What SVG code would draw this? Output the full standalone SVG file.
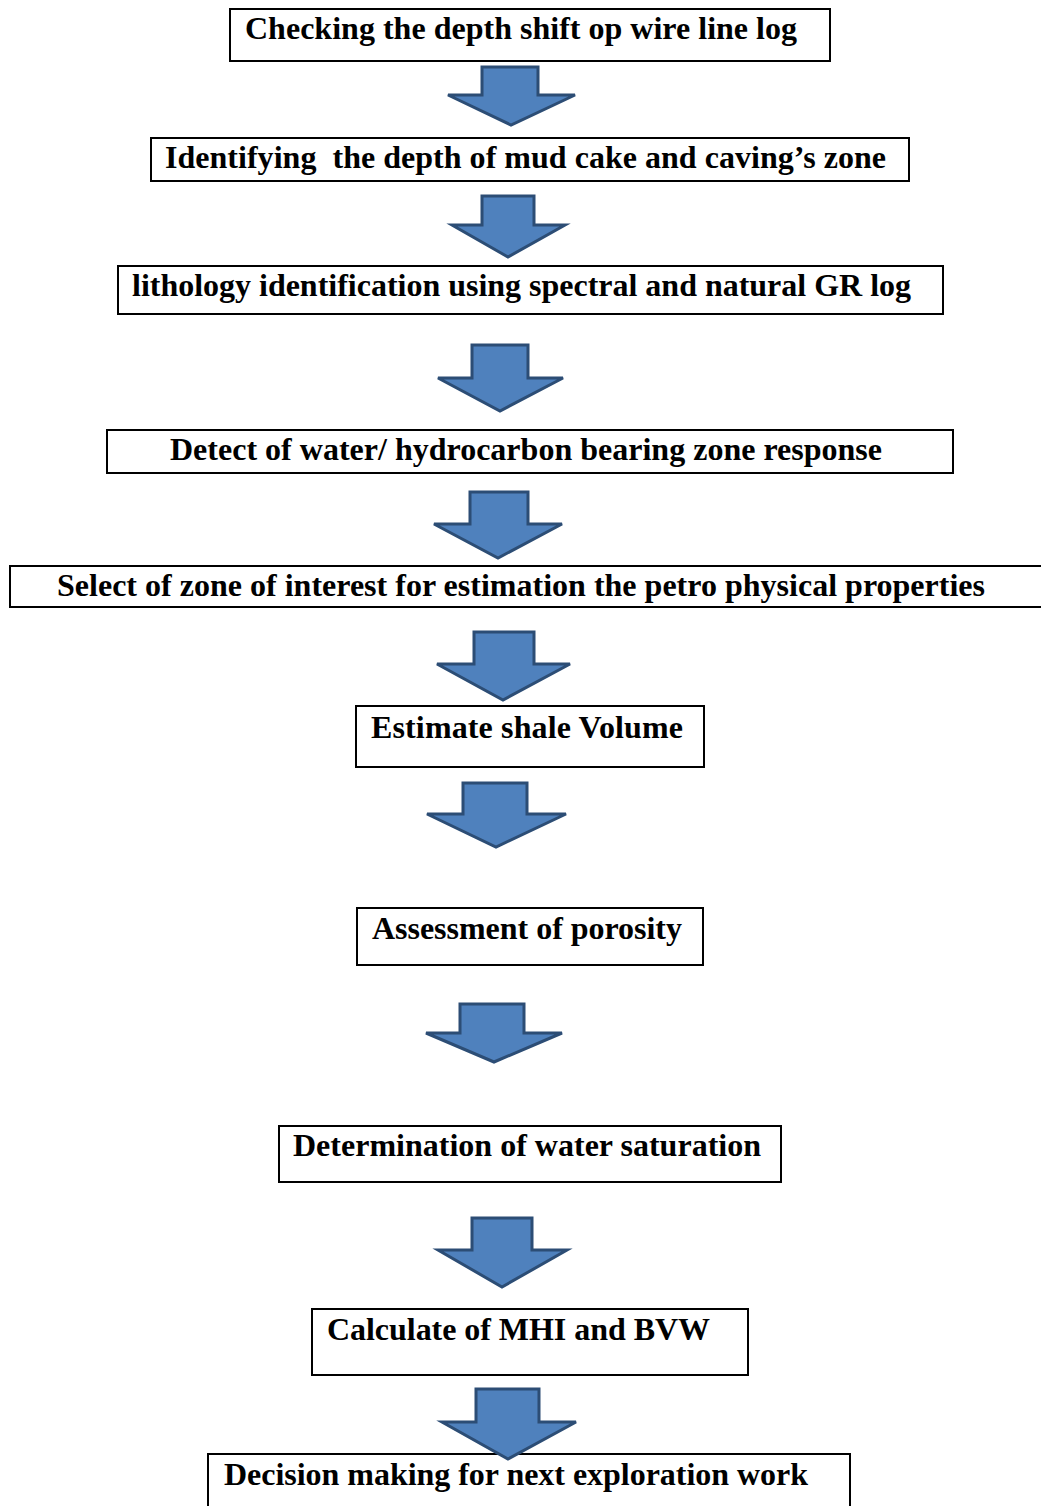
<svg xmlns="http://www.w3.org/2000/svg" width="1041" height="1506" viewBox="0 0 1041 1506">
<style>
.box{fill:#fff;stroke:#000;stroke-width:2}
.t{font-family:"Liberation Serif","Times New Roman",serif;font-weight:bold;font-size:32px;fill:#000;white-space:pre}
.arr{fill:#4F81BD;stroke:#2C4D75;stroke-width:3;stroke-linejoin:miter}
</style>
<rect width="1041" height="1506" fill="#fff"/>
<g id="connectors">
<polygon class="arr" points="482,67 538,67 538,95 575,95 511,125 448,95 482,95"/>
<polygon class="arr" points="482,196 534,196 534,225 565,225 508,257 452,225 482,225"/>
<polygon class="arr" points="472,345 528,345 528,378 563,378 500,411 438,378 472,378"/>
<polygon class="arr" points="470,492 528,492 528,524 562,524 498,558 434,524 470,524"/>
<polygon class="arr" points="474,632 534,632 534,664 570,664 503,700 437,664 474,664"/>
<polygon class="arr" points="463,783 527,783 527,814 566,814 496,847 427,814 463,814"/>
<polygon class="arr" points="460,1004 524,1004 524,1033 562,1033 494,1062 426,1033 460,1033"/>
<polygon class="arr" points="472,1218 532,1218 532,1250 567,1250 502,1287 438,1250 472,1250"/>
</g>
<g id="n1"><rect class="box" x="230" y="9" width="600" height="52"/><text class="t" x="245" y="39" textLength="552" lengthAdjust="spacing">Checking the depth shift op wire line log</text></g>
<g id="n2"><rect class="box" x="151" y="138" width="758" height="43"/><text class="t" x="165" y="168" textLength="721" lengthAdjust="spacing" xml:space="preserve">Identifying  the depth of mud cake and caving’s zone</text></g>
<g id="n3"><rect class="box" x="118" y="266" width="825" height="48"/><text class="t" x="132" y="296" textLength="779" lengthAdjust="spacing">lithology identification using spectral and natural GR log</text></g>
<g id="n4"><rect class="box" x="107" y="430" width="846" height="43"/><text class="t" x="170" y="460" textLength="712" lengthAdjust="spacing">Detect of water/ hydrocarbon bearing zone response</text></g>
<g id="n5"><rect class="box" x="10" y="566" width="1040" height="41"/><text class="t" x="57" y="596" textLength="928" lengthAdjust="spacing">Select of zone of interest for estimation the petro physical properties</text></g>
<g id="n6"><rect class="box" x="356" y="706" width="348" height="61"/><text class="t" x="371" y="738" textLength="312" lengthAdjust="spacing">Estimate shale Volume</text></g>
<g id="n7"><rect class="box" x="357" y="908" width="346" height="57"/><text class="t" x="372" y="939" textLength="310" lengthAdjust="spacing">Assessment of porosity</text></g>
<g id="n8"><rect class="box" x="279" y="1126" width="502" height="56"/><text class="t" x="293" y="1156" textLength="468" lengthAdjust="spacing">Determination of water saturation</text></g>
<g id="n9"><rect class="box" x="312" y="1309" width="436" height="66"/><text class="t" x="327" y="1340" textLength="383" lengthAdjust="spacing">Calculate of MHI and BVW</text></g>
<g id="n10"><rect class="box" x="208" y="1454" width="642" height="60"/><text class="t" x="224" y="1485" textLength="584" lengthAdjust="spacing">Decision making for next exploration work</text></g>
<g id="connectors-top">
<polygon class="arr" points="476,1389 539,1389 539,1422 576,1422 508,1459 442,1422 476,1422"/>
</g>
</svg>
